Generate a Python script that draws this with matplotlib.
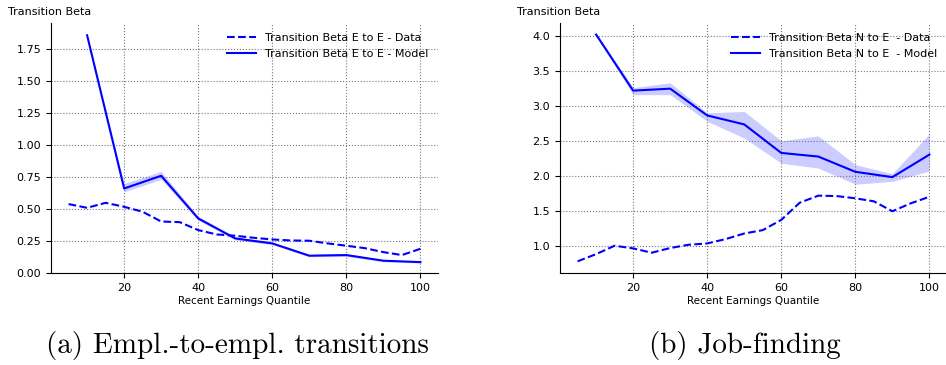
import matplotlib
matplotlib.use("Agg")
import matplotlib.pyplot as plt
import numpy as np

# ---- data ----
data_x = [5, 10, 15, 20, 25, 30, 35, 40, 45, 50, 55, 60, 65, 70, 75, 80, 85, 90, 95, 100]
model_x = [10, 20, 30, 40, 50, 60, 70, 80, 90, 100]

ee_data = [0.536, 0.507, 0.546, 0.515, 0.476, 0.400, 0.395, 0.333, 0.299, 0.289,
           0.273, 0.260, 0.252, 0.250, 0.229, 0.211, 0.192, 0.161, 0.138, 0.187]
ee_model = [1.854, 0.658, 0.757, 0.424, 0.268, 0.229, 0.133, 0.138, 0.094, 0.083]
ee_model_lo = [1.845, 0.632, 0.729, 0.410, 0.256, 0.220, 0.124, 0.127, 0.086, 0.076]
ee_model_hi = [1.862, 0.697, 0.791, 0.440, 0.280, 0.240, 0.143, 0.150, 0.101, 0.090]

ne_data = [0.777, 0.880, 1.000, 0.962, 0.900, 0.967, 1.014, 1.033, 1.095, 1.175,
           1.223, 1.370, 1.616, 1.716, 1.710, 1.678, 1.635, 1.493, 1.607, 1.700]
ne_model = [4.020, 3.218, 3.246, 2.863, 2.735, 2.327, 2.275, 2.057, 1.981, 2.303]
ne_model_lo = [4.000, 3.160, 3.160, 2.780, 2.540, 2.180, 2.110, 1.880, 1.920, 2.070]
ne_model_hi = [4.040, 3.260, 3.330, 2.900, 2.920, 2.500, 2.570, 2.160, 2.030, 2.600]

panels = [
    dict(data=ee_data, model=ee_model, lo=ee_model_lo, hi=ee_model_hi,
         lab_data="Transition Beta E to E - Data",
         lab_model="Transition Beta E to E - Model",
         caption="(a) Empl.-to-empl. transitions",
         yticks=[0.00, 0.25, 0.50, 0.75, 1.00, 1.25, 1.50, 1.75], yfmt="{:.2f}",
         ylim=(-0.002, 1.95)),
    dict(data=ne_data, model=ne_model, lo=ne_model_lo, hi=ne_model_hi,
         lab_data="Transition Beta N to E  - Data",
         lab_model="Transition Beta N to E  - Model",
         caption="(b) Job-finding",
         yticks=[1.0, 1.5, 2.0, 2.5, 3.0, 3.5, 4.0], yfmt="{:.1f}",
         ylim=(0.61, 4.185)),
]

W, H = 946, 365
fig = plt.figure(figsize=(W / 100, H / 100), dpi=100)

lefts = [51, 560]
ax_w = 387
ax_top = 23
ax_bot = 273
cap_x = [237, 745]

for i, p in enumerate(panels):
    ax = fig.add_axes([lefts[i] / W, 1 - ax_bot / H, ax_w / W, (ax_bot - ax_top) / H])
    ax.fill_between(model_x, p["lo"], p["hi"], color="#0000ff", alpha=0.2, lw=0)
    ax.plot(data_x, p["data"], color="#0000ff", ls="--", lw=1.5, label=p["lab_data"])
    ax.plot(model_x, p["model"], color="#0000ff", ls="-", lw=1.5, label=p["lab_model"])
    ax.set_xticks([20, 40, 60, 80, 100])
    ax.set_yticks(p["yticks"])
    ax.set_yticklabels([p["yfmt"].format(v) for v in p["yticks"]])
    ax.set_ylim(*p["ylim"])
    ax.tick_params(labelsize=8, length=3.5, width=0.8)
    ax.grid(True, color="#777777", ls=":", lw=0.8)
    ax.spines["top"].set_visible(False)
    ax.spines["right"].set_visible(False)
    ax.set_xlabel("Recent Earnings Quantile", fontsize=7.5, labelpad=2)
    ax.annotate("Transition Beta", xy=(0, 1), xycoords="axes fraction",
                xytext=(-31, 8), textcoords="offset points",
                ha="left", va="center", fontsize=8)
    ax.legend(loc="upper right", frameon=False, fontsize=8, handlelength=2.6,
              borderaxespad=0.5, labelspacing=0.5)
    fig.text(cap_x[i] / W, 1 - 345 / H, p["caption"], family="cmr10",
             fontsize=21, ha="center", va="center")

fig.savefig("out.png", dpi=100)
